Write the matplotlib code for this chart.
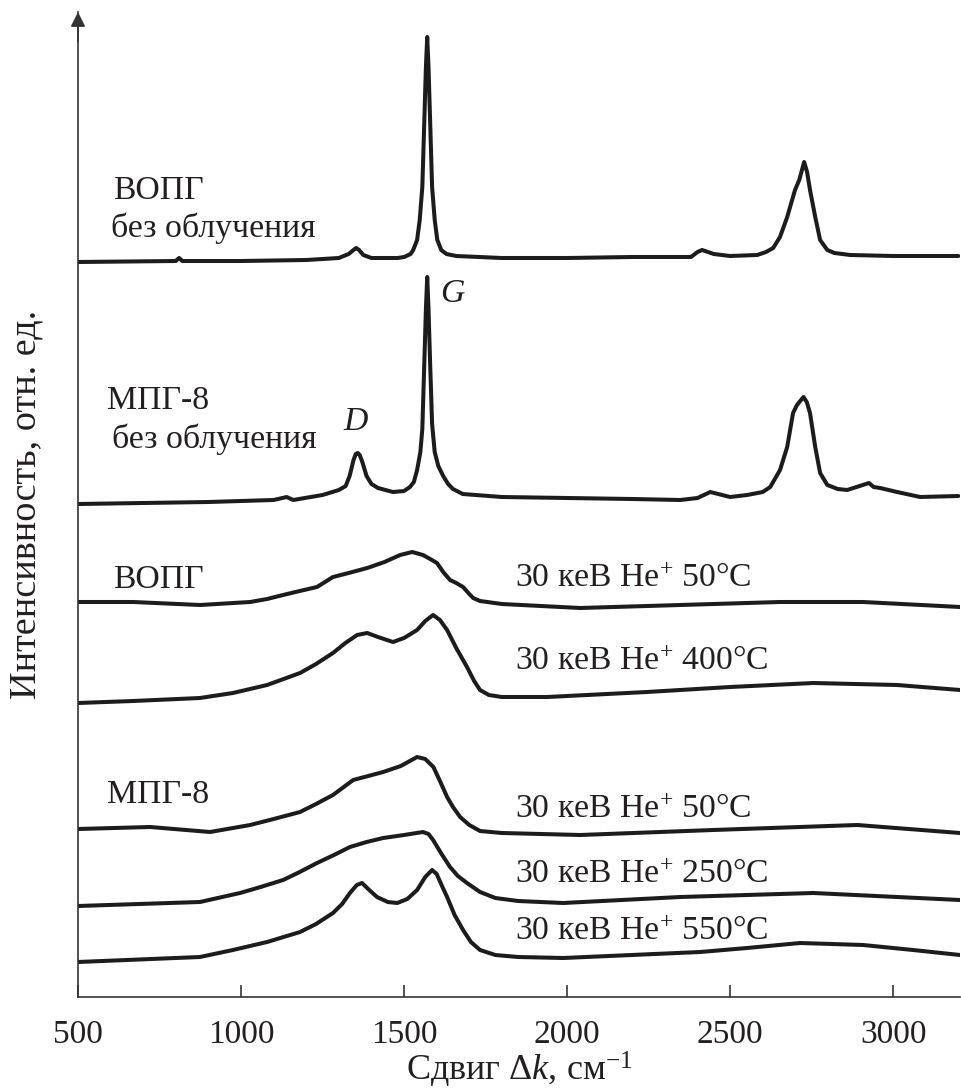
import matplotlib
matplotlib.use("Agg")
import matplotlib.pyplot as plt

plt.rcParams["font.family"] = ["Liberation Serif", "DejaVu Serif"]
plt.rcParams["mathtext.fontset"] = "custom"
plt.rcParams["mathtext.rm"] = "Liberation Serif"
plt.rcParams["mathtext.it"] = "Liberation Serif:italic"

# Raman spectra: wavenumber (cm^-1) and intensity above each trace's own baseline (arb. units)
hopg_raw_x = [500, 800, 810, 820, 1000, 1200, 1300, 1330, 1345, 1353, 1362, 1375, 1400, 1480,
              1500, 1520, 1528, 1540, 1548, 1556, 1562, 1567, 1571, 1575, 1580, 1586, 1594,
              1602, 1614, 1630, 1660, 1800, 2000, 2200, 2380, 2400, 2414, 2450, 2500, 2583,
              2610, 2632, 2653, 2675, 2699, 2712, 2727, 2736, 2745, 2761, 2776, 2798, 2820,
              2868, 3000, 3200]
hopg_raw_y = [0, 1, 4, 1, 1, 2, 4, 8, 12, 14, 12, 7, 4, 4,
              5, 8, 12, 22, 42, 75, 140, 195, 225, 195, 140, 75, 42,
              22, 12, 8, 6, 4, 4, 5, 5, 10, 12, 8, 6, 7,
              10, 14, 25, 45, 72, 82, 100, 90, 72, 45, 22, 12, 9,
              7, 6, 6]

mpg_raw_x = [500, 700, 900, 1100, 1140, 1160, 1250, 1300, 1321, 1333, 1345, 1352, 1358, 1364,
             1372, 1385, 1400, 1420, 1466, 1500, 1518, 1530, 1540, 1550, 1556, 1562, 1567,
             1571, 1575, 1580, 1586, 1594, 1605, 1620, 1635, 1650, 1680, 1800, 2000, 2200,
             2347, 2400, 2439, 2500, 2552, 2600, 2623, 2653, 2675, 2693, 2705, 2725, 2735,
             2745, 2761, 2776, 2798, 2830, 2859, 2926, 2940, 2960, 3012, 3083, 3200]
mpg_raw_y = [0, 1, 2, 4, 7, 4, 9, 14, 18, 28, 44, 50, 51, 49,
             42, 28, 20, 16, 12, 13, 17, 22, 34, 52, 75, 140, 195,
             227, 195, 140, 80, 52, 38, 28, 20, 15, 10, 7, 6, 5,
             4, 6, 12, 7, 9, 12, 17, 34, 57, 91, 99, 107, 102,
             91, 57, 31, 19, 15, 14, 21, 17, 16, 12, 7, 8]

hopg_50_x = [500, 669, 874, 1028, 1080, 1129, 1180, 1233, 1282, 1330, 1387, 1440, 1488, 1525,
             1558, 1580, 1601, 1620, 1641, 1660, 1681, 1700, 1712, 1733, 1800, 2040, 2347,
             2653, 2908, 3205]
hopg_50_y = [0, 0, -3, 0, 3, 7, 11, 15, 25, 29, 34, 40, 47, 50,
             47, 43, 39, 30, 22, 19, 15, 8, 4, 1, -2, -6, -3,
             0, 0, -5]

hopg_400_x = [500, 669, 874, 975, 1080, 1181, 1230, 1282, 1320, 1356, 1387, 1420, 1466, 1500,
              1540, 1565, 1589, 1610, 1632, 1660, 1693, 1715, 1733, 1760, 1800, 1939, 2245,
              2500, 2755, 3012, 3205]
hopg_400_y = [0, 2, 5, 10, 18, 30, 39, 50, 60, 68, 70, 66, 61, 65,
              73, 82, 88, 83, 73, 55, 36, 22, 13, 8, 6, 6, 11,
              16, 20, 18, 13]

mpg_50_x = [500, 721, 905, 1028, 1100, 1181, 1230, 1282, 1344, 1390, 1436, 1490, 1540, 1565,
            1590, 1610, 1632, 1650, 1672, 1700, 1733, 1800, 2040, 2448, 2890, 3205]
mpg_50_y = [0, 2, -3, 4, 10, 17, 25, 34, 49, 53, 57, 63, 72, 70,
            62, 48, 32, 22, 12, 4, -2, -4, -6, -1, 4, -4]

mpg_250_x = [500, 874, 997, 1060, 1129, 1180, 1233, 1285, 1334, 1385, 1436, 1500, 1558, 1575,
             1589, 1615, 1641, 1665, 1693, 1733, 1780, 1850, 1988, 2347, 2755, 3205]
mpg_250_y = [0, 4, 13, 19, 26, 34, 43, 51, 59, 64, 68, 71, 74, 72,
             66, 52, 39, 30, 23, 14, 8, 5, 3, 9, 13, 6]

mpg_550_x = [500, 874, 975, 1080, 1181, 1230, 1282, 1310, 1334, 1355, 1371, 1390, 1417, 1450,
             1479, 1510, 1540, 1565, 1586, 1600, 1615, 1632, 1655, 1681, 1705, 1733, 1780,
             1850, 1988, 2408, 2552, 2715, 2908, 3061, 3205]
mpg_550_y = [0, 5, 12, 20, 30, 38, 49, 58, 69, 77, 79, 73, 65, 60,
             59, 63, 72, 85, 92, 88, 77, 65, 47, 32, 20, 12, 7,
             5, 4, 10, 14, 19, 17, 12, 7]

# vertical stacking offset of each trace
offsets = [735, 493, 395, 294, 168, 91, 35]

traces = [(hopg_raw_x, hopg_raw_y), (mpg_raw_x, mpg_raw_y), (hopg_50_x, hopg_50_y),
          (hopg_400_x, hopg_400_y), (mpg_50_x, mpg_50_y), (mpg_250_x, mpg_250_y),
          (mpg_550_x, mpg_550_y)]

xticks = [500, 1000, 1500, 2000, 2500, 3000]

W, H = 961, 1088
fig = plt.figure(figsize=(W / 100, H / 100), dpi=100)
ax = fig.add_axes([78 / W, (H - 997) / H, (960 - 78) / W, (997 - 12) / H])

line_color = "#1c1c1c"
text_color = "#231f20"
for (xs, ys), off in zip(traces, offsets):
    ax.plot(xs, [v + off for v in ys], color=line_color, lw=2.9,
            solid_joinstyle="round", solid_capstyle="round")

ax.set_xlim(500, 3205)
ax.set_ylim(0, 985)
ax.set_xticks(xticks)
ax.set_xticklabels([str(t) for t in xticks])
ax.set_yticks([])
ax.tick_params(axis="x", direction="in", length=9, width=1.2, colors="#333333",
               labelsize=24, labelcolor=text_color, pad=16)
for s in ("top", "right"):
    ax.spines[s].set_visible(False)
for s in ("left", "bottom"):
    ax.spines[s].set_color("#333333")
    ax.spines[s].set_linewidth(1.2)

ax.annotate("", xy=(0, 1.0), xycoords="axes fraction", xytext=(0, 0.97),
            arrowprops=dict(arrowstyle="-|>", color="#333333", lw=1.2,
                            mutation_scale=22, shrinkA=0, shrinkB=0))

ax.set_xlabel("Сдвиг Δ$k$, см$^{-1}$", fontsize=26, color=text_color, labelpad=0)
ax.set_ylabel("Интенсивность, отн. ед.", fontsize=27.5, color=text_color, labelpad=25)


def px_text(xp, yp, s, **kw):
    fig.text(xp / W, 1 - yp / H, s, color=text_color, va="baseline", ha="left", **kw)


fs = 24.3
px_text(113, 199, "ВОПГ", fontsize=fs)
px_text(111, 237, "без облучения", fontsize=fs)
px_text(107, 409, "МПГ-8", fontsize=fs)
px_text(112, 448, "без облучения", fontsize=fs)
px_text(343, 430, "D", fontsize=fs, style="italic")
px_text(440, 302, "G", fontsize=fs, style="italic")
px_text(113, 588, "ВОПГ", fontsize=fs)
px_text(107, 803, "МПГ-8", fontsize=fs)

run_labels = ["30 кеВ He$^{+}$ 50°C", "30 кеВ He$^{+}$ 400°C", "30 кеВ He$^{+}$ 50°C",
              "30 кеВ He$^{+}$ 250°C", "30 кеВ He$^{+}$ 550°C"]
for lab, yb in zip(run_labels, [587, 670, 818, 883, 940]):
    px_text(515, yb, lab, fontsize=fs)

fig.savefig("out.png", dpi=100, facecolor="white")
